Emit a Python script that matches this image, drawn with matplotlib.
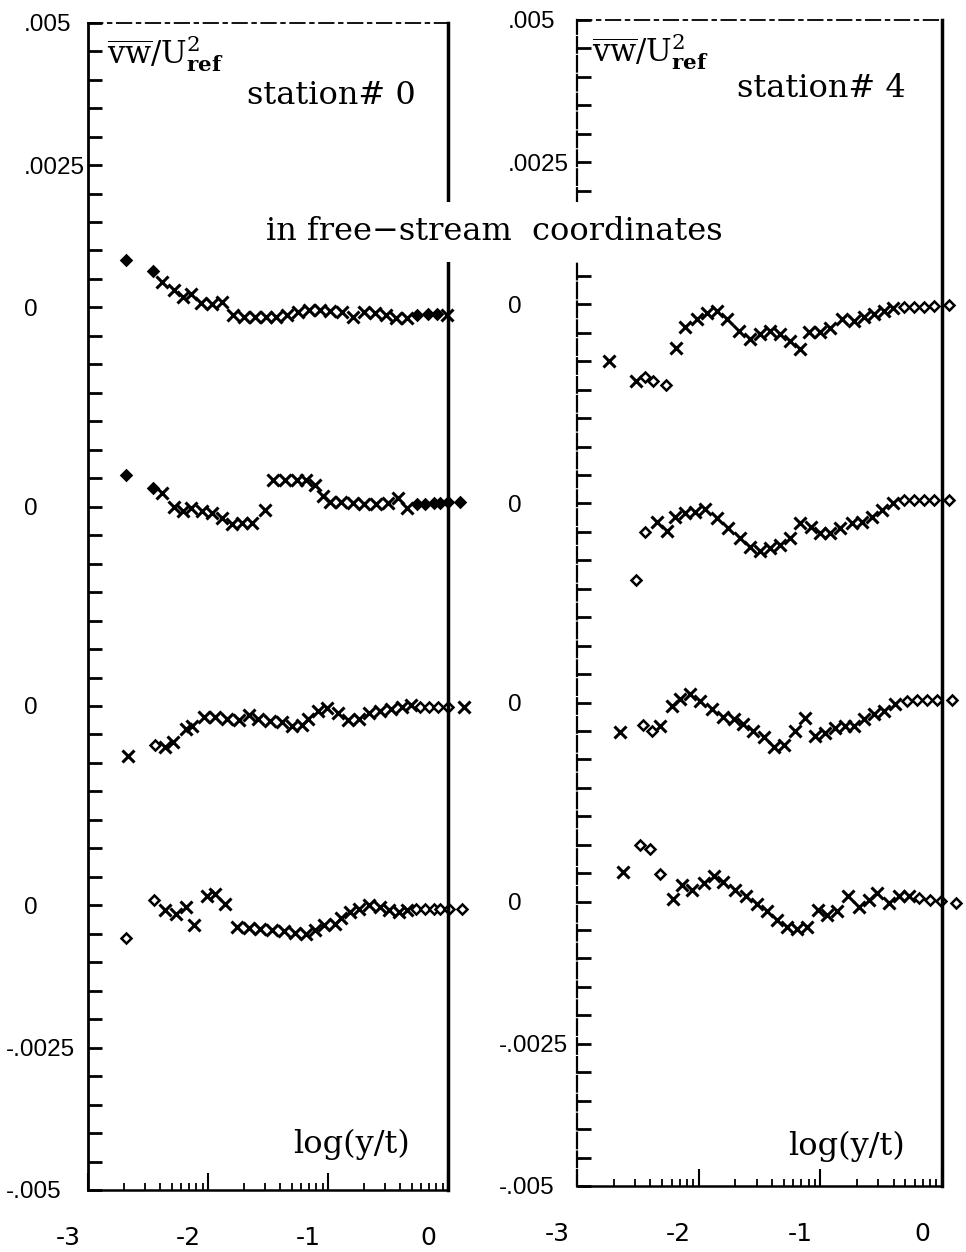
import numpy as np
import matplotlib.pyplot as plt
from matplotlib.ticker import FixedLocator, MultipleLocator
from matplotlib.transforms import ScaledTranslation

plt.rcParams['mathtext.fontset'] = 'dejavuserif'

# =============================================================================
# DATA  (log(y/t), vw/Uref^2), profiles top to bottom
# crosses = main series, diamonds = points at the ends of each profile
# =============================================================================

### station 0
s0_x1 = [-2.38, -2.28, -2.21, -2.14, -2.06, -1.97, -1.88, -1.79, -1.70, -1.61, -1.52, -1.43, -1.34,
         -1.25, -1.16, -1.07, -0.98, -0.88, -0.79, -0.70, -0.61, -0.52, -0.43, -0.34, -0.01]
s0_v1 = [0.00044, 0.00030, 0.00019, 0.00023, 0.00008, 0.00006, 0.00010, -0.00013, -0.00017, -0.00017,
         -0.00017, -0.00017, -0.00014, -0.00008, -0.00005, -0.00005, -0.00007, -0.00008, -0.00016,
         -0.00008, -0.00010, -0.00014, -0.00019, -0.00018, -0.00014]
s0_dx1 = [-2.68, -2.46, -0.26, -0.17, -0.09]
s0_dv1 = [0.00084, 0.00064, -0.00014, -0.00012, -0.00011]

s0_x2 = [-2.38, -2.28, -2.21, -2.14, -2.05, -1.965, -1.88, -1.80, -1.72, -1.634, -1.523, -1.455, -1.36,
         -1.26, -1.18, -1.11, -1.04, -0.986, -0.89, -0.79, -0.70, -0.60, -0.50, -0.42, -0.34]
s0_v2 = [0.00024, 0.0, -0.00008, -0.00002, -0.00008, -0.00011, -0.0002, -0.00031, -0.00028, -0.00028,
         -0.00005, 0.00047, 0.00047, 0.00047, 0.00047, 0.00038, 0.00018, 0.00009, 0.00008, 0.00006,
         0.00005, 0.00005, 0.00006, 0.00015, -0.00002]
s0_dx2 = [-2.686, -2.46, -0.256, -0.19, -0.116, -0.066, 0.0, 0.10]
s0_dv2 = [0.00056, 0.00033, 0.00005, 0.00005, 0.00006, 0.00006, 0.00008, 0.00008]

s0_x3 = [-2.667, -2.36, -2.295, -2.18, -2.13, -2.03, -1.94, -1.84, -1.745, -1.66, -1.58, -1.48, -1.385,
         -1.30, -1.22, -1.165, -1.08, -1.01, -0.92, -0.835, -0.74, -0.655, -0.57, -0.475, -0.38, -0.31, 0.13]
s0_v3 = [-0.00087, -0.00072, -0.00064, -0.00041, -0.00035, -0.0002, -0.0002, -0.00022, -0.00025,
         -0.00016, -0.00022, -0.00027, -0.00028, -0.00035, -0.00033, -0.00023, -0.00008, -0.00004,
         -0.00013, -0.00025, -0.00022, -0.00013, -0.00008, -0.00005, -0.00002, 0.00001, -0.00002]
s0_dx3 = [-2.44, -0.23, -0.155, -0.08, 0.0]
s0_dv3 = [-0.00069, -0.00002, -0.00002, -0.00002, -0.00002]

s0_x4 = [-2.36, -2.27, -2.18, -2.12, -2.005, -1.94, -1.855, -1.76, -1.66, -1.565, -1.47, -1.37, -1.275,
         -1.18, -1.11, -1.03, -0.945, -0.89, -0.82, -0.74, -0.655, -0.57, -0.49, -0.41, -0.34]
s0_v4 = [-0.00009, -0.00015, -0.00003, -0.00035, 0.00017, 0.0002, 0.00003, -0.00038, -0.0004, -0.00042,
         -0.00044, -0.00045, -0.00048, -0.0005, -0.00044, -0.00035, -0.00032, -0.00023, -0.00012,
         -0.00006, 0.0, -0.00003, -0.00009, -0.00012, -0.00009]
s0_dx4 = [-2.68, -2.45, -0.27, -0.19, -0.12, -0.065, 0.005, 0.116]
s0_dv4 = [-0.00058, 0.00009, -0.00006, -0.00006, -0.00006, -0.00006, -0.00006, -0.00006]

### station 4
s4_x1 = [-2.734, -2.514, -2.19, -2.11, -2.015, -1.93, -1.85, -1.77, -1.67, -1.576, -1.494, -1.41, -1.33,
         -1.247, -1.17, -1.09, -1.0, -0.918, -0.82, -0.725, -0.64, -0.56, -0.48, -0.40]
s4_v1 = [-0.001, -0.00135, -0.00076, -0.0004, -0.00026, -0.00015, -0.00012, -0.00026, -0.00047,
         -0.00061, -0.00052, -0.00047, -0.00052, -0.00064, -0.00079, -0.00049, -0.00049, -0.00041,
         -0.00026, -0.00029, -0.00023, -0.00017, -0.00012, -0.00006]
s4_dx1 = [-2.44, -2.372, -2.27, -0.314, -0.232, -0.15, -0.067, 0.056]
s4_dv1 = [-0.00127, -0.00135, -0.00141, -0.00005, -0.00004, -0.00004, -0.00003, -0.00001]

s4_x2 = [-2.344, -2.262, -2.193, -2.11, -2.03, -1.947, -1.85, -1.755, -1.66, -1.576, -1.494, -1.41, -1.33,
         -1.247, -1.165, -1.08, -1.0, -0.918, -0.835, -0.74, -0.657, -0.575, -0.49, -0.40]
s4_v2 = [-0.00032, -0.00048, -0.00024, -0.00017, -0.00015, -0.00009, -0.00026, -0.00044, -0.00061,
         -0.00076, -0.00084, -0.00079, -0.00073, -0.00061, -0.00035, -0.00041, -0.00052, -0.00052,
         -0.00044, -0.00035, -0.00032, -0.00023, -0.00012, 0.0]
s4_dx2 = [-2.514, -2.44, -0.314, -0.232, -0.15, -0.067, 0.056]
s4_dv2 = [-0.00134, -0.00051, 0.00006, 0.00006, 0.00006, 0.00006, 0.00006]

s4_x3 = [-2.646, -2.317, -2.22, -2.152, -2.07, -1.988, -1.89, -1.796, -1.713, -1.636, -1.554, -1.467,
         -1.384, -1.296, -1.206, -1.123, -1.04, -0.959, -0.877, -0.794, -0.726, -0.644, -0.56, -0.48, -0.383]
s4_v3 = [-0.00051, -0.00041, -0.00006, 0.00007, 0.00015, 0.00003, -0.00012, -0.00026, -0.00029, -0.00038,
         -0.0005, -0.00061, -0.00079, -0.00074, -0.0005, -0.00028, -0.00058, -0.00054, -0.00044,
         -0.00041, -0.00041, -0.00029, -0.0002, -0.00015, -0.00003]
s4_dx3 = [-2.454, -2.385, -0.287, -0.204, -0.122, -0.04, 0.084]
s4_dv3 = [-0.0004, -0.0005, 0.00003, 0.00004, 0.00004, 0.00004, 0.00004]

s4_x4 = [-2.619, -2.207, -2.138, -2.056, -1.96, -1.878, -1.796, -1.70, -1.61, -1.52, -1.44, -1.356, -1.274,
         -1.192, -1.11, -1.022, -0.945, -0.863, -0.775, -0.685, -0.603, -0.533, -0.438, -0.356, -0.273]
s4_v4 = [0.00052, 0.00005, 0.00029, 0.0002, 0.00032, 0.00045, 0.00034, 0.0002, 0.00009, -0.00005,
         -0.00017, -0.00032, -0.00044, -0.00049, -0.00044, -0.00015, -0.00023, -0.00017, 0.00009,
         -0.00009, 0.00003, 0.00015, -0.00003, 0.00009, 0.00009]
s4_dx4 = [-2.481, -2.399, -2.32, -0.19, -0.095, -0.012, 0.111]
s4_dv4 = [0.001, 0.00092, 0.00048, 0.00006, 0.00003, 0.00001, -0.00003]

# each profile is shifted down so they stack in one panel
offsets = [0.0, -0.0035, -0.007, -0.0105]
ytick_pos = [0.005, 0.0025, 0.0, -0.0035, -0.007, -0.0105, -0.013, -0.0155]
ytick_lab = ['.005', '.0025', '0', '0', '0', '0', '-.0025', '-.005']
xtick_pos = [-3, -2, -1, 0]
xtick_lab = ['-3', '-2', '-1', '0']

# =============================================================================
# PLOT
# =============================================================================
W, H = 966, 1252
fig = plt.figure(figsize=(W / 100, H / 100), dpi=100)

def box(x0, y0, x1, y1):
    return [x0 / W, 1 - y1 / H, (x1 - x0) / W, (y1 - y0) / H]

def panel(ax, crosses, diamonds, filled, ypad, neg_shift):
    for k in range(4):
        cx, cv = crosses[k]
        dx, dv = diamonds[k]
        ax.plot(cx, np.array(cv) + offsets[k], ls='none', marker='x', ms=8.5, mew=2.2,
                color='black', clip_on=False)
        ax.plot(dx, np.array(dv) + offsets[k], ls='none', marker='D', ms=4.6, mew=1.8,
                mec='black', mfc='black' if filled[k] else 'white', clip_on=False)
    ax.set_xlim(-3, 0)
    ax.set_ylim(-0.0155, 0.005)
    ax.set_yticks(ytick_pos, ytick_lab, ha='left', fontsize=17.5, family='Liberation Sans')
    ax.yaxis.set_minor_locator(MultipleLocator(0.0005))
    ax.tick_params(axis='y', which='both', direction='in', length=10, width=2,
                   left=True, right=False, pad=ypad)
    ax.set_xticks(xtick_pos, xtick_lab, fontsize=18, family='DejaVu Sans')
    ax.xaxis.set_minor_locator(FixedLocator([n + np.log10(m) for n in (-3, -2, -1) for m in range(2, 10)]))
    ax.tick_params(axis='x', which='major', direction='in', length=12, width=1.5, top=False, pad=26)
    ax.tick_params(axis='x', which='minor', direction='in', length=5, width=1.3, top=False)
    ax.spines['top'].set_linestyle((0, (8, 3, 2, 3)))
    ax.spines['top'].set_linewidth(1.3)
    ax.spines['left'].set_linewidth(2)
    ax.spines['right'].set_linewidth(2.5)
    ax.spines['bottom'].set_linewidth(1.8)
    # labels in the original sit a bit left of their ticks
    for lab in ax.get_xticklabels():
        lab.set_transform(lab.get_transform() + ScaledTranslation(-0.2, 0, fig.dpi_scale_trans))
    for lab in ax.get_yticklabels():
        if lab.get_text().startswith('-'):
            lab.set_transform(lab.get_transform() + ScaledTranslation(neg_shift, 0, fig.dpi_scale_trans))

ax_l = fig.add_axes(box(88, 22.7, 448, 1190))
panel(ax_l,
      [(s0_x1, s0_v1), (s0_x2, s0_v2), (s0_x3, s0_v3), (s0_x4, s0_v4)],
      [(s0_dx1, s0_dv1), (s0_dx2, s0_dv2), (s0_dx3, s0_dv3), (s0_dx4, s0_dv4)],
      [True, True, False, False], 46, -0.18)

ax_r = fig.add_axes(box(577, 20, 942, 1186))
panel(ax_r,
      [(s4_x1, s4_v1), (s4_x2, s4_v2), (s4_x3, s4_v3), (s4_x4, s4_v4)],
      [(s4_dx1, s4_dv1), (s4_dx2, s4_dv2), (s4_dx3, s4_dv3), (s4_dx4, s4_dv4)],
      [False, False, False, False], 50, -0.09)
ax_r.spines['left'].set_linestyle((0, (7, 1.5)))
ax_r.spines['left'].set_linewidth(1.6)

# text
ylab = r'$\overline{\mathrm{vw}}/\mathrm{U}^{2}_{\mathbf{ref}}$'
fig.text(107 / W, 1 - 64 / H, ylab, fontsize=22, va='baseline')
fig.text(592 / W, 1 - 61 / H, ylab, fontsize=22, va='baseline')
fig.text(247 / W, 1 - 104 / H, 'station# 0', fontsize=23, family='DejaVu Serif', va='baseline')
fig.text(737 / W, 1 - 97 / H, 'station# 4', fontsize=23, family='DejaVu Serif', va='baseline')
fig.text(293 / W, 1 - 1153 / H, 'log(y/t)', fontsize=23, family='DejaVu Serif', va='baseline')
fig.text(788 / W, 1 - 1155 / H, 'log(y/t)', fontsize=23, family='DejaVu Serif', va='baseline')
fig.text(494 / W, 1 - 232 / H, 'in free\u2212stream  coordinates', fontsize=23, family='DejaVu Serif',
         ha='center', va='center',
         bbox=dict(boxstyle='square,pad=0.45', fc='white', ec='none'))

fig.savefig('out.png', dpi=100)
